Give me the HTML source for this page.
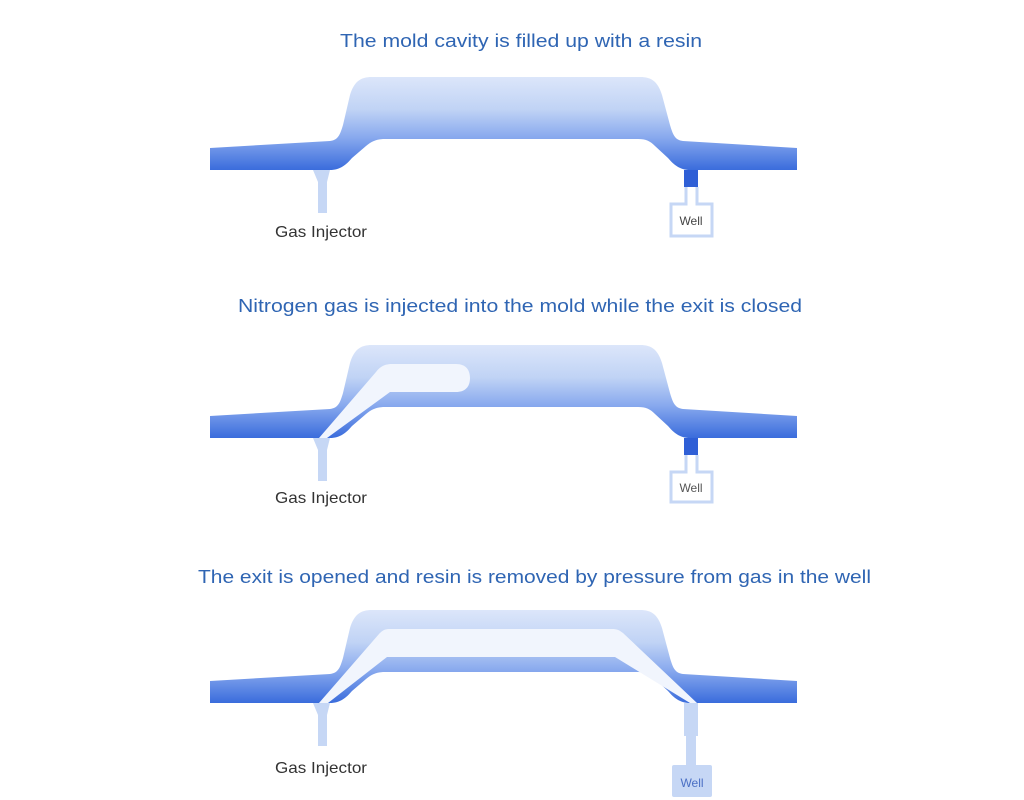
<!DOCTYPE html>
<html><head><meta charset="utf-8"><style>
html,body{margin:0;padding:0;background:#fff;}
svg{display:block;}
text{font-family:"Liberation Sans",sans-serif;}
</style></head><body>
<svg width="1024" height="800" viewBox="0 0 1024 800" xmlns="http://www.w3.org/2000/svg">
<defs>
<linearGradient id="g" x1="0" y1="77" x2="0" y2="170" gradientUnits="userSpaceOnUse">
<stop offset="0" stop-color="#dce6fa"/>
<stop offset="0.35" stop-color="#c0d3f5"/>
<stop offset="0.65" stop-color="#88a9ee"/>
<stop offset="1" stop-color="#3a6cdc"/>
</linearGradient>
<path id="mold" d="M210,148 L330,141 C338,140 340,135 343,125 L350,95 C354,82 360,77 372,77 L640,77 C652,77 658,82 662,95 L670,125 C673,135 675,140 683,141 L797,148 L797,170 L690,170 C680,170 674,165 668,158 L655,146 C650,141 646,139 638,139 L385,139 C377,139 372,141 366,146 L352,158 C346,165 340,170 330,170 L210,170 Z" fill="url(#g)"/>
<path id="inj" d="M313,170 L330,170 L327,182 L327,213 L318,213 L318,182 Z" fill="#c6d7f5"/>
</defs>

<text x="340" y="47" font-size="18" fill="#2f65b3" textLength="362" lengthAdjust="spacingAndGlyphs">The mold cavity is filled up with a resin</text>
<text x="238" y="312" font-size="18" fill="#2f65b3" textLength="564" lengthAdjust="spacingAndGlyphs">Nitrogen gas is injected into the mold while the exit is closed</text>
<text x="198" y="583" font-size="18" fill="#2f65b3" textLength="673" lengthAdjust="spacingAndGlyphs">The exit is opened and resin is removed by pressure from gas in the well</text>

<use href="#mold"/>
<use href="#inj"/>
<rect x="684" y="170" width="14" height="17" fill="#2f5fd6"/>
<path d="M686,187 L686,204 L671,204 L671,236 L712,236 L712,204 L697,204 L697,187" fill="none" stroke="#c6d7f5" stroke-width="3"/>
<text x="691" y="225" font-size="12" fill="#444" text-anchor="middle">Well</text>
<text x="275" y="237" font-size="16" fill="#333" textLength="92" lengthAdjust="spacingAndGlyphs">Gas Injector</text>

<g transform="translate(0,268)">
<use href="#mold"/>
<use href="#inj"/>
<rect x="684" y="170" width="14" height="17" fill="#2f5fd6"/>
<path d="M686,187 L686,204 L671,204 L671,234 L712,234 L712,204 L697,204 L697,187" fill="none" stroke="#c6d7f5" stroke-width="3"/>
<text x="691" y="224" font-size="12" fill="#555" text-anchor="middle">Well</text>
<text x="275" y="235" font-size="16" fill="#333" textLength="92" lengthAdjust="spacingAndGlyphs">Gas Injector</text>
</g>
<path d="M319,438 L327,438 L390,392 L456,392 C466,392 470,386 470,378 C470,370 466,364 456,364 L392,364 C384,364 380,367 376,372 Z" fill="#f1f5fd"/>

<g transform="translate(0,533)">
<use href="#mold"/>
<use href="#inj"/>
</g>
<path d="M319,703 L328,703 L387,657 L615,657 L690,703 L697,703 L623,633 C619,630 617,629 612,629 L390,629 C385,629 383,630 379,634 Z" fill="#f1f5fd"/>
<rect x="684" y="703" width="14" height="33" fill="#c6d7f5"/>
<rect x="686" y="735" width="10" height="31" fill="#c6d7f5"/>
<rect x="672" y="765" width="40" height="32" rx="2" fill="#c6d7f5"/>
<text x="692" y="787" font-size="12" fill="#4a6fc4" text-anchor="middle">Well</text>
<text x="275" y="773" font-size="16" fill="#333" textLength="92" lengthAdjust="spacingAndGlyphs">Gas Injector</text>
</svg>
</body></html>
